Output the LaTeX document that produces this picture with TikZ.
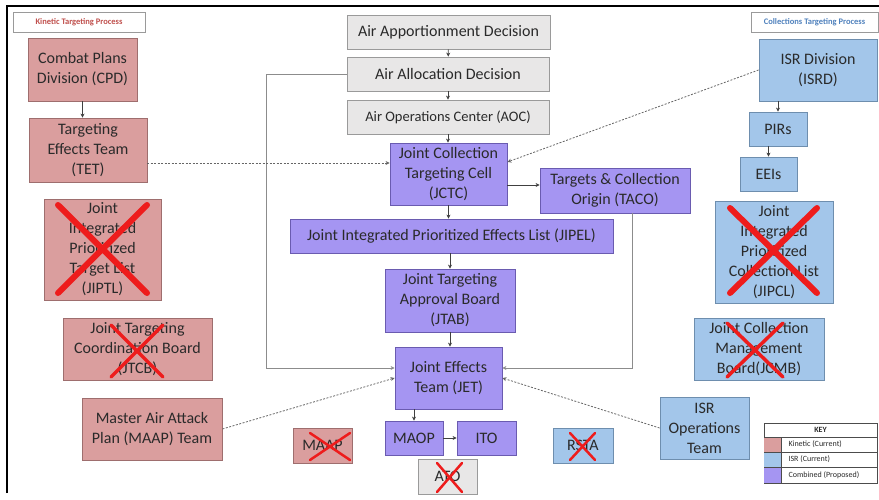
\documentclass[tikz,border=0pt]{standalone}
\usepackage{fontspec}
\setmainfont{Carlito}
\usetikzlibrary{calc,arrows.meta}
\definecolor{kinetik}{HTML}{DA9E9E}
\definecolor{kinetikgaris}{HTML}{9E6E6E}
\definecolor{isr}{HTML}{A3C6EA}
\definecolor{isrgaris}{HTML}{6E8EAE}
\definecolor{gabung}{HTML}{A595F2}
\definecolor{gabunggaris}{HTML}{6A5BB0}
\definecolor{abu}{HTML}{E8E7E7}
\definecolor{abugaris}{HTML}{9A9A9A}
\definecolor{teks}{HTML}{2A2A2A}
\definecolor{merahcoret}{HTML}{EE1C1C}
\definecolor{judulmerah}{HTML}{C0504D}
\definecolor{judulbiru}{HTML}{4F81BD}
\newcommand{\coret}[4]{\draw[merahcoret,line width=#4,line cap=round] ($(#1)+(-#2,-#3)$) -- ($(#1)+(#2,#3)$) ($(#1)+(-#2,#3)$) -- ($(#1)+(#2,-#3)$);}

\begin{document}
\begin{tikzpicture}[x=1pt,y=-1pt,
  kotak/.style={draw,line width=0.8pt,text=teks,align=center,inner sep=0pt,
    font=\fontsize{16}{20}\selectfont},
  ukuran/.style 2 args={minimum width=#1pt,minimum height=#2pt},
  kin/.style={kotak,fill=kinetik,draw=kinetikgaris},
  biru/.style={kotak,fill=isr,draw=isrgaris},
  ungu/.style={kotak,fill=gabung,draw=gabunggaris},
  abuabu/.style={kotak,fill=abu,draw=abugaris},
  judul/.style={draw=abugaris,fill=white,line width=0.6pt,inner sep=0pt,
    font=\bfseries\fontsize{8.5}{10}\selectfont},
  panah/.style={-{Stealth[length=4pt,width=4pt]},line width=0.6pt,draw=black!75},
  jalur/.style={-{Stealth[length=4pt,width=4pt]},line width=0.7pt,draw=black!45},
  putus/.style={-{Stealth[length=4pt,width=4pt]},line width=0.8pt,draw=black!60,
    dash pattern=on 2pt off 1.5pt}]
  \useasboundingbox (0,0) rectangle (879,499);
  \draw[line width=1.5pt] (7,493) -- (7,6) -- (879,6);

  % kinetic side
  \node[judul,text=judulmerah,ukuran={132}{20}] (judulK) at (79,22) {Kinetic Targeting Process};
  \node[kin,ukuran={109}{63}] (cpd)   at (82.5,69.5) {Combat Plans\\Division (CPD)};
  \node[kin,ukuran={118}{64}] (tet)   at (88,150)    {Targeting\\Effects Team\\(TET)};
  \node[kin,ukuran={117}{101}] (jiptl) at (102.5,249.5) {Joint\\Integrated\\Prioritized\\Target List\\(JIPTL)};
  \node[kin,ukuran={149}{62}] (jtcb)  at (137.5,349) {Joint Targeting\\Coordination Board\\(JTCB)};
  \node[kin,ukuran={140}{62}] (maapt) at (152,429)   {Master Air Attack\\Plan (MAAP) Team};

  % centre column
  \node[abuabu,ukuran={203}{34}] (aad)    at (448.5,32) {Air Apportionment Decision};
  \node[abuabu,ukuran={202}{34}] (aalloc) at (448,74)   {Air Allocation Decision};
  \node[abuabu,ukuran={202}{34},font=\fontsize{14.5}{18}\selectfont] (aoc) at (448,117) {Air Operations Center (AOC)};
  \node[ungu,ukuran={117}{62}]  (jctc)  at (448.5,174) {Joint Collection\\Targeting Cell\\(JCTC)};
  \node[ungu,ukuran={150}{45}]  (taco)  at (615,190.5) {Targets \& Collection\\Origin (TACO)};
  \node[ungu,ukuran={323}{34}]  (jipel) at (451.5,236) {Joint Integrated Prioritized Effects List (JIPEL)};
  \node[ungu,ukuran={130}{63}]  (jtab)  at (450,300.5) {Joint Targeting\\Approval Board\\(JTAB)};
  \node[ungu,ukuran={107}{62}]  (jet)   at (448.5,378) {Joint Effects\\Team (JET)};
  \node[ungu,ukuran={58}{34}]   (maop)  at (414,438)   {MAOP};
  \node[ungu,ukuran={59}{34}]   (ito)   at (486.5,438) {ITO};
  \node[abuabu,ukuran={59}{35}] (ato)   at (447.5,476.5) {ATO};
  \node[kin,ukuran={59}{35}]    (maap)  at (322.5,445.5) {MAAP};
  \node[biru,ukuran={60}{35}]   (rsta)  at (583,445.5) {RSTA};

  % collections side
  \node[judul,text=judulbiru,ukuran={127}{20}] (judulC) at (814.5,22) {Collections Targeting Process};
  \node[biru,ukuran={118}{62}]  (isrd)   at (818,70)    {ISR Division\\(ISRD)};
  \node[biru,ukuran={58}{34}]   (pirs)   at (778,129)   {PIRs};
  \node[biru,ukuran={57}{34}]   (eeis)   at (768.5,174) {EEIs};
  \node[biru,ukuran={118}{102}] (jipcl)  at (774,252)   {Joint\\Integrated\\Prioritized\\Collection List\\(JIPCL)};
  \node[biru,ukuran={130}{62}]  (jcmb)   at (759,349)   {Joint Collection\\Management\\Board(JCMB)};
  \node[biru,ukuran={89}{62}]   (isrops) at (704.5,428) {ISR\\Operations\\Team};

  % connectors
  \draw[panah] (cpd.south) -- (cpd.south |- tet.north);
  \draw[panah] (aad) -- (aalloc);
  \draw[panah] (aalloc) -- (aoc);
  \draw[panah] (aoc.south) -- (aoc.south |- jctc.north);
  \coordinate (jctck) at (507,185);
  \draw[panah] (jctck) -- (jctck -| taco.west);
  \draw[panah] (jctc.south) -- (jctc.south |- jipel.north);
  \draw[panah] (jtab.north |- jipel.south) -- (jtab.north);
  \draw[panah] (jtab.south) -- (jtab.south |- jet.north);
  \draw[panah] (maop.north |- jet.south) -- (maop.north);
  \draw[panah] (maop) -- (ito);
  \draw[panah] (isrd.south -| pirs.north) -- (pirs.north);
  \draw[panah] (pirs.south -| eeis.north) -- (eeis.north);

  \coordinate (kiri)  at (266,368);
  \coordinate (kanan) at (632,368);
  \draw[jalur] (aalloc.west) -| (kiri) -- (kiri -| jet.west);
  \draw[jalur] (kanan |- taco.south) -- (kanan) -- (kanan -| jet.east);

  \coordinate (tetk) at (147,163);
  \draw[putus] (tetk) -- (tetk -| jctc.west);
  \draw[putus] (isrd.west) -- ($(jctc.east)+(0,-12)$);
  \draw[putus] (maapt.east) -- (jet.west);
  \draw[putus] (isrops.west) -- (jet.east);

  % crossed out
  \coret{102.5,249}{44.5}{44}{6pt}
  \coret{773.5,250.5}{43.5}{42.5}{6pt}
  \coret{137,351}{26}{26}{3.5pt}
  \coret{755,350}{28}{27}{3.5pt}
  \coret{330,446.5}{20}{13.5}{2.5pt}
  \coret{449.5,477.5}{12.5}{14.5}{2.5pt}
  \coret{582.5,446.5}{12.5}{13.5}{2.5pt}

  % key
  \draw[black!70,line width=0.6pt] (764,423) rectangle (877,483);
  \fill[kinetik] (764,437) rectangle (781,452);
  \fill[isr]     (764,452) rectangle (781,467);
  \fill[gabung]  (764,467) rectangle (781,483);
  \draw[black!70,line width=0.5pt] (764,437) -- (877,437) (764,452) -- (877,452) (764,467) -- (877,467) (781,437) -- (781,483);
  \node[font=\bfseries\fontsize{8}{9}\selectfont,text=teks] (kunci) at (820.5,430) {KEY};
  \node[anchor=west,font=\fontsize{8}{9}\selectfont,text=teks] (kunciK) at (785,444.5) {Kinetic (Current)};
  \node[anchor=west,font=\fontsize{8}{9}\selectfont,text=teks] (kunciI) at (785,459.5) {ISR (Current)};
  \node[anchor=west,font=\fontsize{8}{9}\selectfont,text=teks] (kunciG) at (785,475) {Combined (Proposed)};
\end{tikzpicture}
\end{document}
